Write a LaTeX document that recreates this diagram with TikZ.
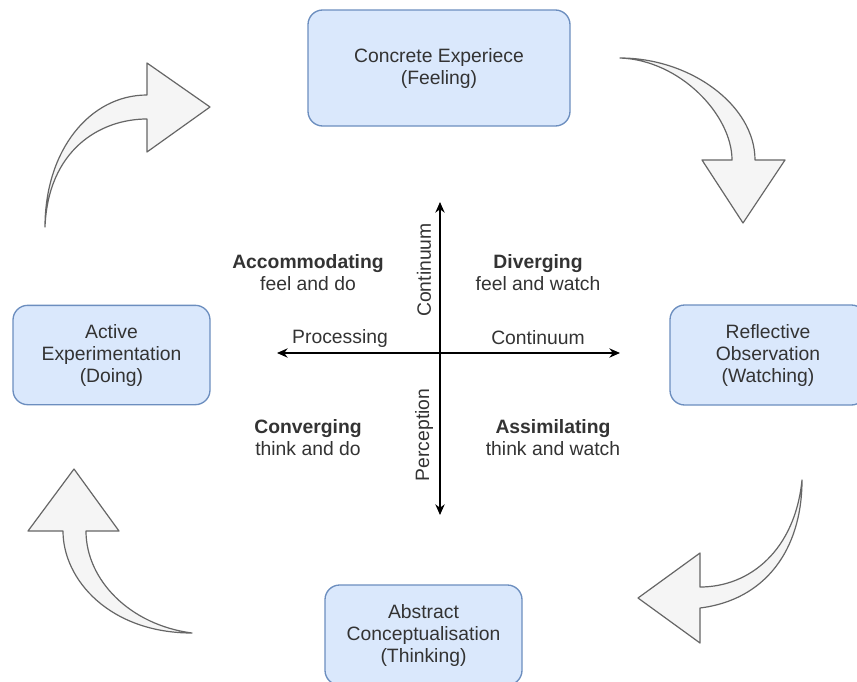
\documentclass[tikz,border=0pt]{standalone}
\usepackage{fontspec}
\setmainfont{Liberation Sans}
\usetikzlibrary{arrows.meta}
\usetikzlibrary{calc}
\definecolor{boxfill}{HTML}{DAE8FC}
\definecolor{boxline}{HTML}{6C8EBF}
\definecolor{arrfill}{HTML}{F5F5F5}
\definecolor{arrline}{HTML}{666666}
\definecolor{txt}{HTML}{333333}
\tikzset{
	stage/.style={draw=boxline, fill=boxfill, line width=1pt, rounded corners=11pt, align=center, text=txt, font=\fontsize{14.5}{16.5}\selectfont},
	bigarrow/.style={draw=arrline, fill=arrfill, line width=0.9pt, line join=round},
	axis/.style={line width=1pt, {Stealth[length=8pt,width=7pt]}-{Stealth[length=8pt,width=7pt]}},
	quad/.style={align=center, text=txt, font=\fontsize{14.5}{16.5}\selectfont}
}
\begin{document}
\begin{tikzpicture}[x=0.75pt, y=-0.75pt]
		\fill[white] (0,0) rectangle (857,682);
		\useasboundingbox (0,0) rectangle (857,682);
		
		% the four stages
		\node[stage, minimum width=196.5pt, minimum height=87pt] (concrete) at (439,68) {Concrete Experiece\\(Feeling)};
		\node[stage, minimum width=147pt, minimum height=75pt] (reflective) at (768,355) {Reflective\\Observation\\(Watching)};
		\node[stage, minimum width=147.75pt, minimum height=75pt] (abstract) at (423.5,635) {Abstract\\Conceptualisation\\(Thinking)};
		\node[stage, minimum width=147.75pt, minimum height=74.5pt] (active) at (111.5,355) {Active\\Experimentation\\(Doing)};
		
		% curved arrows of the cycle
		\draw[bigarrow] (620,58) .. controls (690,58) and (755,105) .. (755,160) -- (785,160) -- (743,223) -- (702,160) -- (732,160) .. controls (732,115) and (680,60) .. (620,58) -- cycle;
		\draw[bigarrow] (802,480) .. controls (802,550) and (765,600) .. (700,608) -- (700,643) -- (638,598) -- (700,553) -- (700,587) .. controls (750,587) and (795,550) .. (802,480) -- cycle;
		\draw[bigarrow] (192,633) .. controls (110,633) and (63,580) .. (63,531) -- (28,531) -- (74,469) -- (119,531) -- (86,531) .. controls (86,580) and (130,625) .. (192,633) -- cycle;
		\draw[bigarrow] (45,227) .. controls (45,150) and (90,95) .. (147,95) -- (147,63) -- (210,107) -- (147,152) -- (147,119) .. controls (100,119) and (48,150) .. (45,227) -- cycle;
		
		% axes
		\coordinate (top) at (440,202);
		\coordinate (bot) at (440,515);
		\coordinate (left) at (277,353);
		\coordinate (right) at (620,353);
		\draw[axis] (bot) -- (top);
		\draw[axis] (left) -- (right);
		
		\node[quad] (proc) at (340,338) {Processing};
		\node[quad] (contx) at (538,338) {Continuum};
		\node[quad, rotate=90] (conty) at (424,270) {Continuum};
		\node[quad, rotate=90] (perc) at (424,435) {Perception};
		
		% learning styles
		\node[quad] (accom) at (308,273) {\textbf{Accommodating}\\feel and do};
		\node[quad] (diverg) at (538,273) {\textbf{Diverging}\\feel and watch};
		\node[quad] (converg) at (308,438) {\textbf{Converging}\\think and do};
		\node[quad] (assim) at (553,438) {\textbf{Assimilating}\\think and watch};
\end{tikzpicture}
\end{document}
